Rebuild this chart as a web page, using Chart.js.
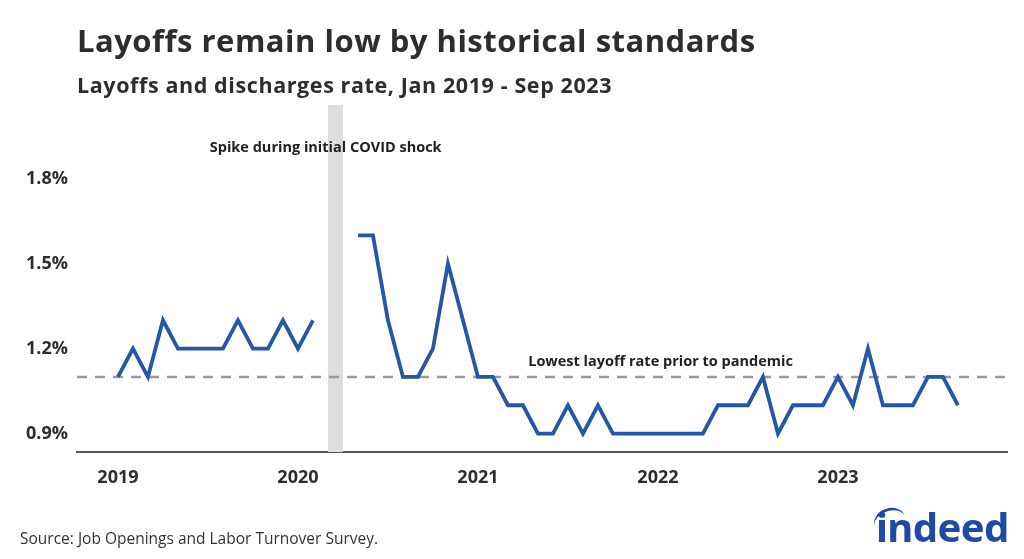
<!DOCTYPE html>
<html>
<head>
<meta charset="utf-8">
<script src="https://cdn.jsdelivr.net/npm/chart.js@4.4.0/dist/chart.umd.min.js"></script>
<style>
  html, body { margin: 0; padding: 0; background: #fff; }
  body { width: 1024px; height: 559px; position: relative; overflow: hidden; font-family: "Open Sans", "Noto Sans", sans-serif; color: #2d2d2d; }
  #wrap { position: absolute; left: 0; top: 0; width: 1024px; height: 559px; }
  .title { position: absolute; left: 77px; top: 19px; font-size: 31px; font-weight: 700; letter-spacing: 0.5px; white-space: nowrap; }
  .sub { position: absolute; left: 77px; top: 70px; font-size: 21.5px; font-weight: 700; letter-spacing: 0.6px; white-space: nowrap; }
  .src { position: absolute; left: 20px; top: 527px; font-size: 15.5px; color: #333; white-space: nowrap; }
  .logo { position: absolute; left: 876px; top: 499px; font-size: 40px; font-weight: 700; color: #1f4aa3; letter-spacing: -0.6px; font-family: "Noto Sans", sans-serif; }
  .arc { position: absolute; left: 874px; top: 508px; width: 32px; height: 24px; border-top: 3px solid #1f4aa3; border-radius: 50% 50% 0 0; transform: rotate(-18deg); }
</style>
</head>
<body>
<div id="wrap"><canvas id="chart" width="1024" height="559"></canvas></div>
<div class="title">Layoffs remain low by historical standards</div>
<div class="sub">Layoffs and discharges rate, Jan 2019 - Sep 2023</div>
<div class="src">Source: Job Openings and Labor Turnover Survey.</div>
<div class="arc"></div>
<div class="logo">indeed</div>
<script>
// monthly layoffs and discharges rate (%), Jan 2019 - Sep 2023; Mar/Apr 2020 left out
const rate2019 = [1.1, 1.2, 1.1, 1.3, 1.2, 1.2, 1.2, 1.2, 1.3, 1.2, 1.2, 1.3];
const rate2020 = [1.2, 1.3, null, null, 1.6, 1.6, 1.3, 1.1, 1.1, 1.2, 1.5, 1.3];
const rate2021 = [1.1, 1.1, 1.0, 1.0, 0.9, 0.9, 1.0, 0.9, 1.0, 0.9, 0.9, 0.9];
const rate2022 = [0.9, 0.9, 0.9, 0.9, 1.0, 1.0, 1.0, 1.1, 0.9, 1.0, 1.0, 1.0];
const rate2023 = [1.1, 1.0, 1.2, 1.0, 1.0, 1.0, 1.1, 1.1, 1.0];

const years = ['2019', '2020', '2021', '2022', '2023'];
const yTicks = [0.9, 1.2, 1.5, 1.8];
const lowestPrePandemic = 1.1;
const covidBand = [14, 15]; // month index: Mar 2020 - Apr 2020

const rates = [...rate2019, ...rate2020, ...rate2021, ...rate2022, ...rate2023];
const points = rates.map((v, i) => ({ x: i, y: v }));

const labelFont = { family: '"Open Sans", sans-serif', size: 18, weight: '700' };

const extras = {
  id: 'extras',
  beforeDatasetsDraw(chart) {
    const { ctx, chartArea: a, scales: { x, y } } = chart;
    ctx.save();
    // covid shading
    ctx.fillStyle = '#dedede';
    const x0 = x.getPixelForValue(covidBand[0]), x1 = x.getPixelForValue(covidBand[1]);
    ctx.fillRect(x0, a.top, x1 - x0, a.bottom - a.top);
    // lowest pre-pandemic reference
    ctx.strokeStyle = '#9a9a9a';
    ctx.lineWidth = 2.5;
    ctx.setLineDash([10, 8]);
    const yl = y.getPixelForValue(lowestPrePandemic);
    ctx.beginPath(); ctx.moveTo(a.left, yl); ctx.lineTo(a.right, yl); ctx.stroke();
    ctx.setLineDash([]);
    // notes
    ctx.fillStyle = '#222';
    ctx.font = '700 14.5px "Open Sans", sans-serif';
    ctx.textBaseline = 'middle';
    ctx.textAlign = 'center';
    ctx.fillText('Spike during initial COVID shock', x.getPixelForValue(13.85), y.getPixelForValue(1.91));
    ctx.textAlign = 'left';
    ctx.fillText('Lowest layoff rate prior to pandemic', x.getPixelForValue(27.35), y.getPixelForValue(1.153));
    ctx.restore();
  }
};

new Chart(document.getElementById('chart'), {
  type: 'line',
  data: {
    datasets: [{
      data: points,
      borderColor: '#2557a7',
      borderWidth: 3.8,
      pointRadius: 0,
      tension: 0,
      spanGaps: false,
      borderJoinStyle: 'miter'
    }]
  },
  options: {
    responsive: false,
    animation: false,
    layout: { padding: { top: 105, right: 17, bottom: 67, left: 0 } },
    plugins: { legend: { display: false }, tooltip: { enabled: false } },
    scales: {
      x: {
        type: 'linear', min: -2.73, max: 59.27,
        grid: { display: false, drawTicks: false },
        border: { display: true, color: '#555', width: 2 },
        afterBuildTicks: s => { s.ticks = years.map((_, i) => ({ value: i * 12 })); },
        afterFit: s => { s.height = 40; },
        ticks: { padding: 15, color: '#2d2d2d', font: labelFont, maxRotation: 0,
          callback: v => years[v / 12] }
      },
      y: {
        min: 0.835, max: 2.06,
        grid: { display: false, drawTicks: false },
        border: { display: false },
        afterBuildTicks: s => { s.ticks = yTicks.map(v => ({ value: v })); },
        afterFit: s => { s.width = 77; },
        ticks: { padding: 9, color: '#2d2d2d', font: labelFont,
          callback: v => v.toFixed(1) + '%' }
      }
    }
  },
  plugins: [extras]
});
</script>
</body>
</html>
